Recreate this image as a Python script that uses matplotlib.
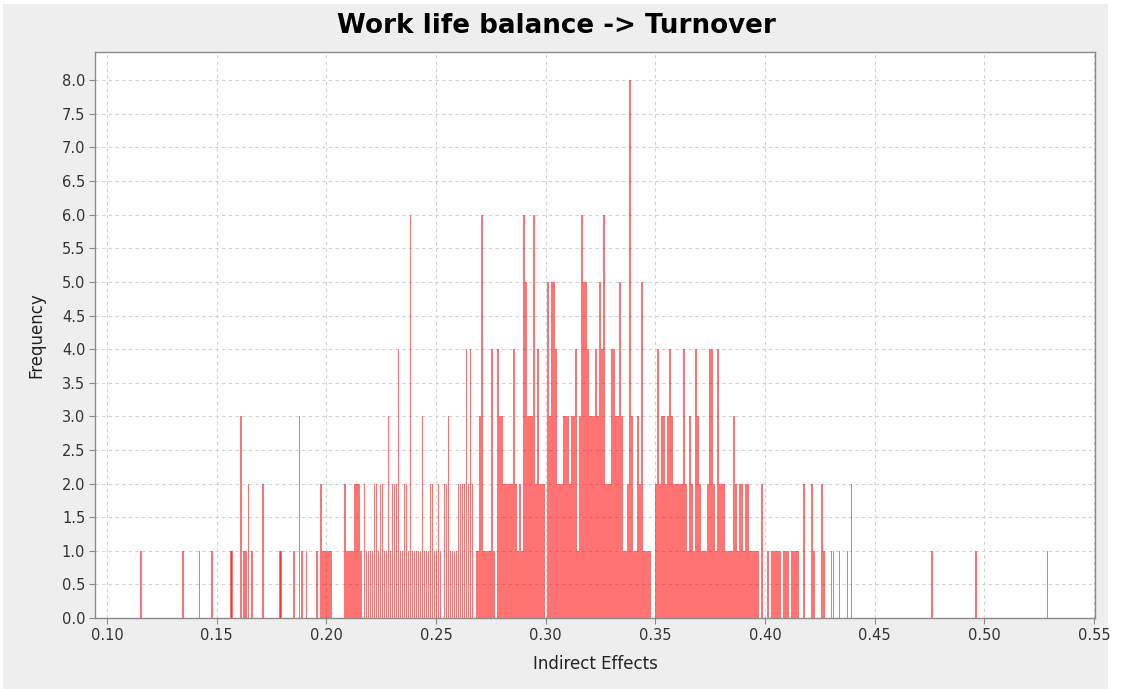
"""Bootstrap histogram of indirect effects: Work life balance -> Turnover."""

import numpy as np
import matplotlib.pyplot as plt
from matplotlib.patches import Rectangle

TITLE = "Work life balance -> Turnover"
X_LABEL = "Indirect Effects"
Y_LABEL = "Frequency"

# dense part of the histogram: regular bins starting at bin_start
bin_start = 0.2070
bin_width = 0.00091
counts = [
    0, 2, 1, 1, 1, 1, 2, 2, 2, 1,
    0, 2, 1, 1, 1, 1, 2, 2, 1, 2,
    2, 1, 1, 3, 1, 2, 2, 2, 4, 1,
    1, 2, 2, 1, 6, 1, 1, 1, 1, 1,
    3, 1, 1, 1, 2, 2, 1, 1, 2, 1,
    0, 2, 2, 3, 1, 1, 1, 1, 2, 2,
    2, 2, 4, 2, 4, 2, 0, 1, 1, 3,
    6, 1, 1, 1, 1, 4, 1, 0, 4, 3,
    3, 2, 2, 2, 2, 2, 4, 2, 1, 2,
    1, 6, 5, 3, 3, 3, 6, 2, 4, 2,
    2, 2, 0, 5, 3, 5, 5, 4, 2, 2,
    2, 3, 3, 3, 2, 3, 3, 4, 1, 3,
    6, 5, 5, 4, 3, 3, 3, 4, 3, 5,
    4, 6, 2, 2, 2, 4, 4, 3, 3, 5,
    3, 1, 1, 2, 8, 3, 1, 1, 3, 2,
    5, 1, 1, 1, 1, 0, 0, 2, 4, 2,
    3, 3, 2, 3, 4, 3, 2, 2, 2, 2,
    2, 4, 2, 1, 3, 2, 1, 4, 3, 2,
    1, 1, 1, 2, 4, 4, 2, 1, 4, 2,
    2, 2, 1, 1, 1, 1, 3, 2, 1, 2,
    2, 1, 2, 2, 1, 1, 1, 1, 1, 0,
    2, 0, 0, 1, 0, 1, 1, 1, 1, 1,
    0, 1, 1, 1, 0, 1, 1, 1, 1, 0,
    0, 2, 0, 0, 0, 2, 1, 0, 0, 0,
    2, 1, 0, 0, 0, 1, 1, 0, 0, 1,
    0, 0, 0, 1, 0, 2, 0, 0, 0, 0,
]

# sparse tails (bin centre, count)
tail_x = [0.1156, 0.1346, 0.1422, 0.1478, 0.1565, 0.1570, 0.1612, 0.1625,
          0.1634, 0.1645, 0.1660, 0.1712, 0.1790, 0.1795, 0.1853, 0.1878,
          0.1890, 0.1910, 0.1956, 0.1976, 0.1985, 0.1994, 0.2002, 0.2011,
          0.2020, 0.4761, 0.4962, 0.5289]
tail_counts = [1, 1, 1, 1, 1, 1, 3, 1,
               1, 2, 1, 2, 1, 1, 1, 3,
               1, 1, 1, 2, 1, 1, 1, 1,
               1, 1, 1, 1]

x_ticks = [0.10, 0.15, 0.20, 0.25, 0.30, 0.35, 0.40, 0.45, 0.50, 0.55]
y_ticks = [0.0, 0.5, 1.0, 1.5, 2.0, 2.5, 3.0, 3.5, 4.0, 4.5,
           5.0, 5.5, 6.0, 6.5, 7.0, 7.5, 8.0]

BAR_COLOR = "#ff0000"
GRID_COLOR = "#d2d2d2"
SPINE_COLOR = "#8a8a8a"

fig = plt.figure(figsize=(11.21, 6.89), dpi=100, facecolor="white")
# grey panel behind the chart, as in the Java chart frame
fig.patches.append(Rectangle((0.003, 0.0), 0.985, 0.994, transform=fig.transFigure,
                             facecolor="#eeeeee", edgecolor="none", zorder=-10))

ax = fig.add_axes([0.0847, 0.1030, 0.8921, 0.8215])
ax.set_facecolor("white")

dense_x = bin_start + bin_width * (np.arange(len(counts)) + 0.5)
all_x = np.concatenate([dense_x, tail_x])
all_c = np.concatenate([counts, tail_counts])
keep = all_c > 0
ax.bar(all_x[keep], all_c[keep], width=0.0008, color=BAR_COLOR, alpha=0.55,
       linewidth=0, zorder=2)

ax.set_xlim(0.0945, 0.5505)
ax.set_ylim(0, 8.42)
ax.set_xticks(x_ticks)
ax.set_xticklabels([f"{t:.2f}" for t in x_ticks])
ax.set_yticks(y_ticks)
ax.set_yticklabels([f"{t:.1f}" for t in y_ticks])
ax.tick_params(axis="both", direction="out", length=4, width=0.8,
               color=SPINE_COLOR, labelsize=10.5, labelcolor="#333333", pad=3)

ax.grid(True, color=GRID_COLOR, linestyle=(0, (3, 3)), linewidth=0.8, zorder=0)
ax.set_axisbelow(True)
for s in ax.spines.values():
    s.set_color(SPINE_COLOR)
    s.set_linewidth(1.0)

ax.set_xlabel(X_LABEL, fontsize=12, color="#222222", labelpad=9)
ax.set_ylabel(Y_LABEL, fontsize=12, color="#222222", labelpad=12)
fig.text(0.496, 0.962, TITLE, ha="center", va="center",
         fontsize=18.8, fontweight="bold", color="black")

fig.savefig("out.png", dpi=100, facecolor=fig.get_facecolor())
